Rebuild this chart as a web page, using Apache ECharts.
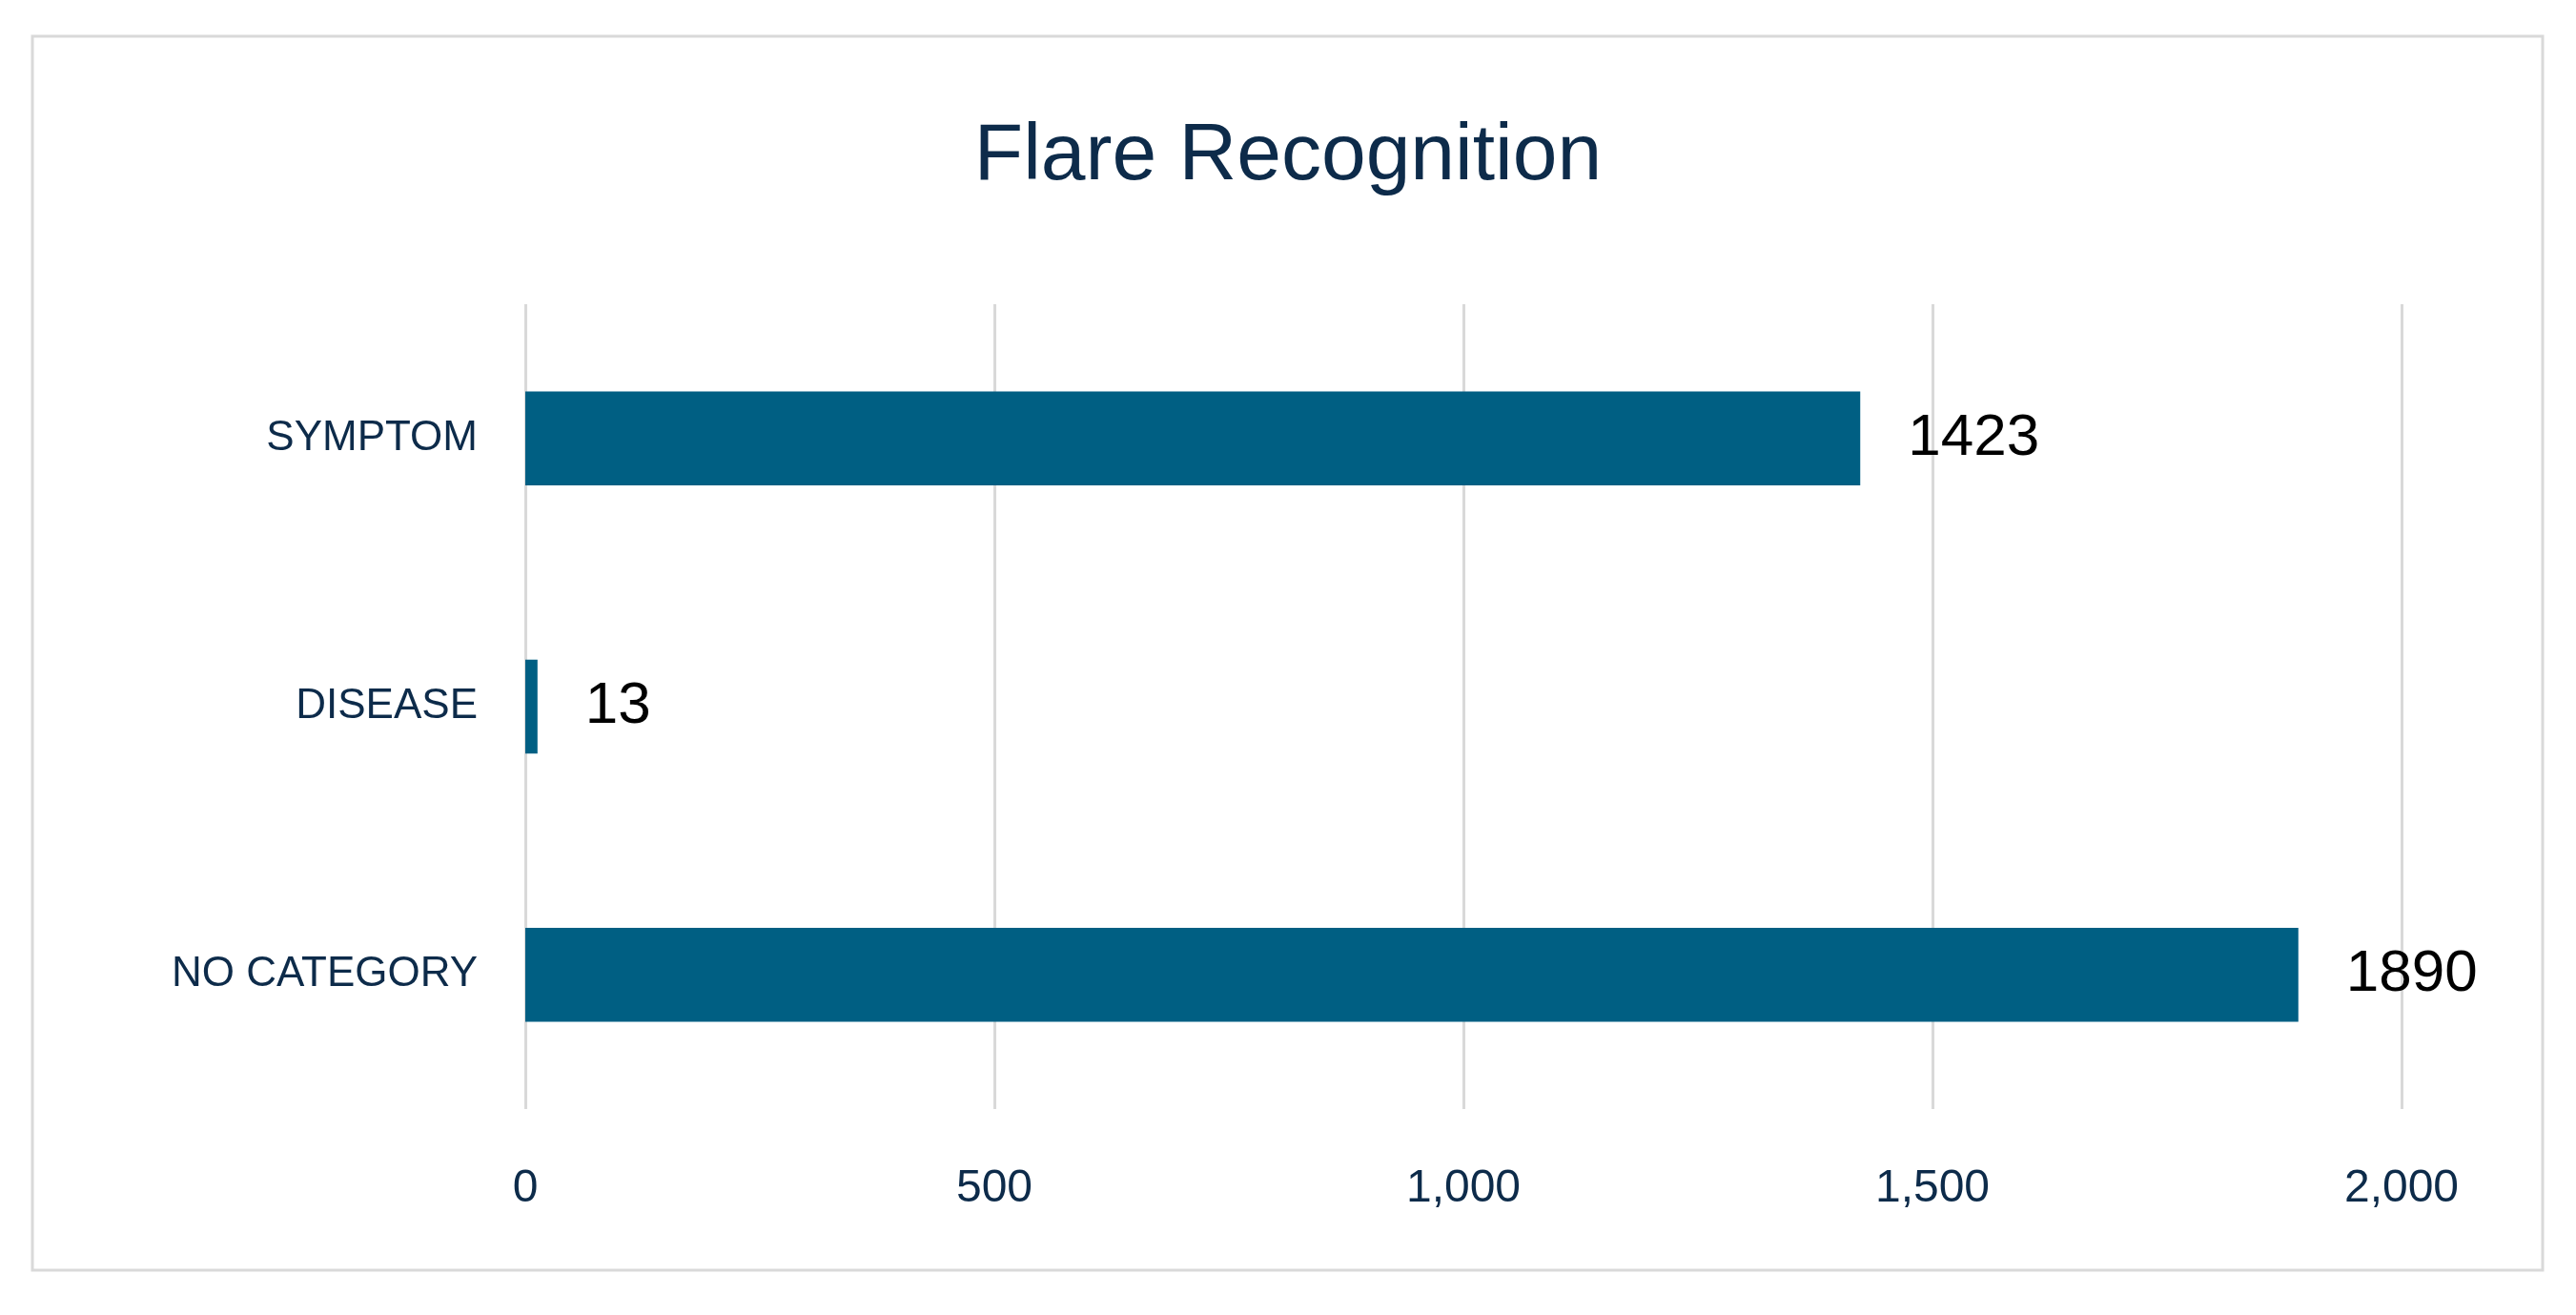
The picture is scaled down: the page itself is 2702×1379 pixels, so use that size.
<!DOCTYPE html>
<html><head><meta charset="utf-8">
<script src="https://cdn.jsdelivr.net/npm/echarts@6/dist/echarts.min.js"></script>
<style>html,body{margin:0;padding:0;background:#fff}#c{width:2702px;height:1379px}</style>
</head><body><div id="c"></div>
<script>
const categories = ['NO CATEGORY', 'DISEASE', 'SYMPTOM'];
const values = [1890, 13, 1423];
const chart = echarts.init(document.getElementById('c'));
chart.setOption({
  backgroundColor: '#fff',
  graphic: [{type: 'rect', shape: {x: 34, y: 38, width: 2633, height: 1294}, style: {fill: 'none', stroke: '#d9d9d9', lineWidth: 3}}],
  title: {text: 'Flare Recognition', left: 'center', top: 118, textStyle: {fontFamily: 'Liberation Sans', fontSize: 84, fontWeight: 'normal', color: '#0d2b4a'}},
  grid: {left: 551, right: 183, top: 319, bottom: 216},
  xAxis: {type: 'value', min: 0, max: 2000, interval: 500,
    axisLine: {show: false}, axisTick: {show: false},
    splitLine: {lineStyle: {color: '#d9d9d9', width: 3}},
    axisLabel: {fontFamily: 'Liberation Sans', fontSize: 48, color: '#0d2b4a', margin: 60}},
  yAxis: {type: 'category', data: categories,
    axisLine: {show: false}, axisTick: {show: false},
    axisLabel: {fontFamily: 'Liberation Sans', fontSize: 44, color: '#0d2b4a', margin: 50}},
  series: [{type: 'bar', data: values, barWidth: '35%', itemStyle: {color: '#005f83'},
    label: {show: true, position: 'right', distance: 50, fontFamily: 'Liberation Sans', fontSize: 62, color: '#000'}}]
});
</script></body></html>
